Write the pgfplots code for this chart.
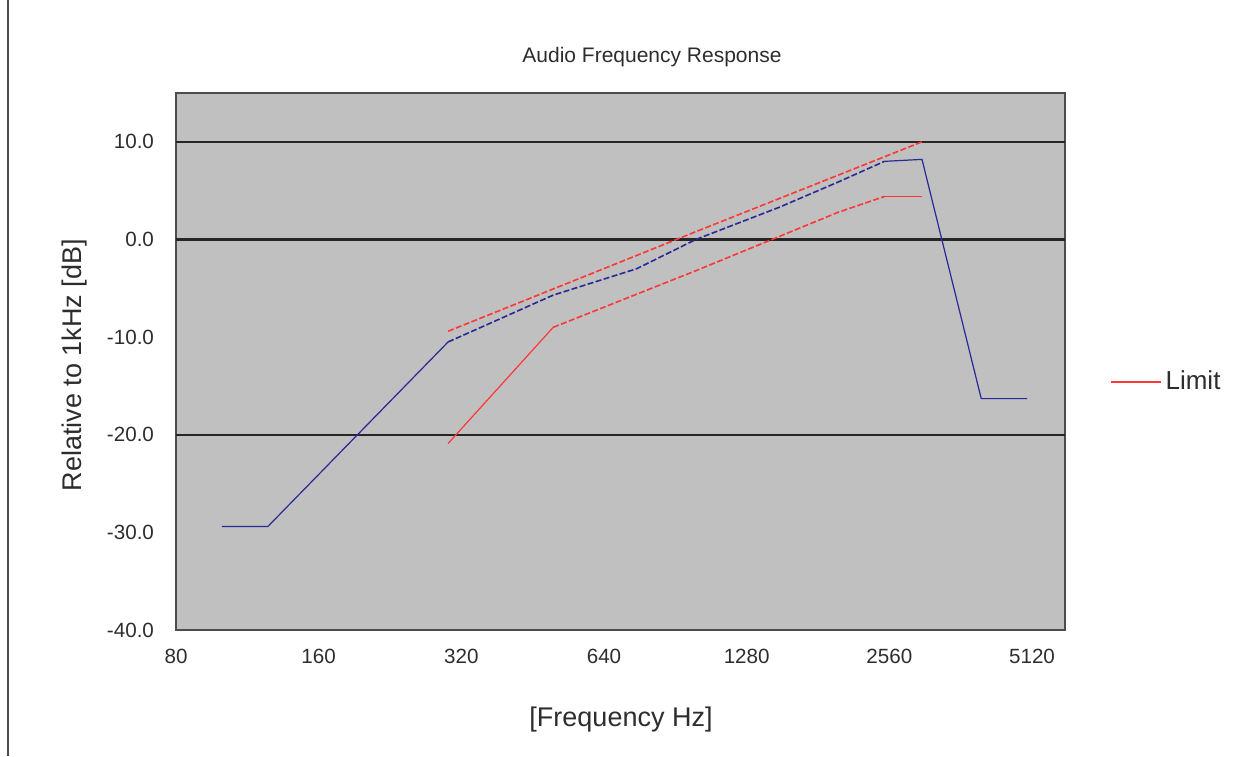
\documentclass[border=0pt]{standalone}
\usepackage{pgfplots}
\pgfplotsset{compat=1.18}
\usepackage{fontspec}
\setmainfont{Liberation Sans}

\definecolor{respblue}{RGB}{40,40,150}
\definecolor{limitred}{RGB}{255,55,55}
\definecolor{plotgray}{RGB}{192,192,192}
\definecolor{txtgray}{RGB}{45,45,45}

\begin{document}
\begin{tikzpicture}[x=1pt,y=1pt]
\begin{axis}[
  at={(88pt,63pt)}, anchor=south west,
  scale only axis, width=444.5pt, height=268.5pt,
  xmode=log, log basis x=2,
  xmin=80, xmax=6010, ymin=-40, ymax=15,
  xtick={80,160,320,640,1280,2560,5120},
  xticklabels={80,160,320,640,1280,2560,5120},
  ytick={-40,-30,-20,-10,0,10},
  yticklabel style={/pgf/number format/fixed, /pgf/number format/fixed zerofill,
    /pgf/number format/precision=1, /pgf/number format/assume math mode=true,
    xshift=-7.5pt},
  extra y ticks={-20,0,10},
  extra y tick labels={},
  extra y tick style={grid=major, major grid style={black!85, line width=1.1pt}},
  major tick length=0pt,
  axis background/.style={fill=plotgray},
  axis line style={gray!60!black, line width=0.9pt},
  tick label style={font=\fontsize{10.3}{12}\selectfont, text=txtgray},
  xticklabel style={yshift=-6pt},
  clip=false,
  legend style={at={(1.0506,0.462)}, anchor=west, draw=none, fill=none,
    font=\fontsize{13}{15}\selectfont, text=txtgray, inner sep=0pt},
  legend image code/.code={\draw[#1] (0pt,0pt) -- (25pt,0pt);},
  legend cell align=left,
]
% measured response
\addplot[respblue, line width=0.6pt, forget plot] coordinates {
  (100,-29.4) (125,-29.4) (300,-10.5)};
\addplot[respblue, line width=0.8pt, dash pattern=on 3pt off 1.2pt, forget plot] coordinates {
  (300,-10.5) (500,-5.7) (750,-3.0) (1000,0.0) (1500,3.3) (2000,5.9) (2500,8.0)};
\addplot[respblue, line width=0.6pt, forget plot] coordinates {
  (2500,8.0) (3000,8.2) (4000,-16.3) (5000,-16.3)};
% upper limit
\addplot[limitred, line width=0.8pt, dash pattern=on 3pt off 1.2pt, forget plot] coordinates {
  (300,-9.4) (1000,0.8) (2000,6.6) (3000,10.0)};
% lower limit
\addplot[limitred, line width=0.6pt] coordinates {
  (300,-20.9) (500,-9.0)};
\addlegendentry{Limit}
\addplot[limitred, line width=0.8pt, dash pattern=on 3pt off 1.2pt, forget plot] coordinates {
  (500,-9.0) (1000,-3.2) (2000,2.8) (2500,4.4)};
\addplot[limitred, line width=0.8pt, forget plot] coordinates {
  (2500,4.4) (3000,4.4)};
\end{axis}
% title and axis labels
\node[font=\fontsize{10.5}{12}\selectfont, text=txtgray] at (326pt,349.5pt) {Audio Frequency Response};
\node[font=\fontsize{13.5}{15}\selectfont, text=txtgray] at (310.5pt,18pt) {[Frequency Hz]};
\node[font=\fontsize{13.5}{15}\selectfont, text=txtgray, rotate=90] at (37.5pt,195.5pt) {Relative to 1kHz [dB]};
% frame line at the left edge
\draw[gray!60!black, line width=0.8pt] (4pt,0pt) -- (4pt,378pt);
\pgfresetboundingbox
\path (0pt,0pt) rectangle (626pt,378pt);
\end{tikzpicture}
\end{document}
